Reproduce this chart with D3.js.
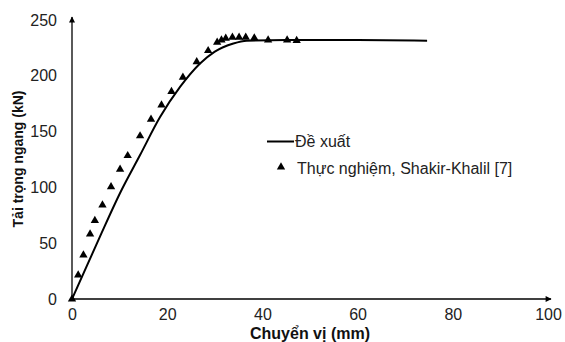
<!DOCTYPE html>
<html>
<head>
<meta charset="utf-8">
<script src="https://cdn.jsdelivr.net/npm/d3@7"></script>
<style>
  body { margin: 0; background: #fff; }
  text { font-family: "Liberation Sans", Arial, sans-serif; }
</style>
</head>
<body>
<div id="chart"></div>
<script>
// proposed model curve (mm, kN)
var modelX = [0, 3, 6.2, 10.1, 14.3, 18.5, 22.7, 26.9, 30, 33.9, 36.7, 45, 60, 74.6];
var modelY = [0, 28.5, 59, 95, 129, 163, 190, 211, 221.7, 229, 231.5, 232, 232, 231.5];

// test data, Shakir-Khalil [7]
var testX = [0, 1.3, 2.4, 3.8, 4.8, 6.4, 8.2, 10.1, 11.7, 14.3, 16.6, 18.8, 20.9, 23.3, 26.2,
             28.6, 30.5, 31.4, 32.3, 33.7, 35.1, 36.5, 38.3, 41.2, 45.2, 47.2];
var testY = [0, 21.5, 39.4, 58.2, 70.2, 84.2, 100.6, 116.2, 128.4, 146.1, 161, 173.8, 185.8, 198.7, 212.6,
             222.5, 230, 232, 233.6, 234.5, 234.5, 234.5, 233.9, 232, 232, 231.5];

var xTicks = [0, 20, 40, 60, 80, 100];
var yTicks = [0, 50, 100, 150, 200, 250];

var width = 565, height = 342;

var x = d3.scaleLinear().domain([0, 100]).range([72, 548]);
var y = d3.scaleLinear().domain([0, 250]).range([299, 20]);

var svg = d3.select('#chart').append('svg')
  .attr('width', width)
  .attr('height', height);

var defs = svg.append('defs');
defs.append('marker')
  .attr('id', 'arrow')
  .attr('viewBox', '0 0 10 10')
  .attr('refX', 9).attr('refY', 5)
  .attr('markerWidth', 7).attr('markerHeight', 6)
  .attr('markerUnits', 'userSpaceOnUse')
  .attr('orient', 'auto')
  .append('path')
  .attr('d', 'M0,0L10,5L0,10Z')
  .attr('fill', '#000');

// axes (no tick marks, arrow at the end)
var xAxis = d3.axisBottom(x).tickValues(xTicks).tickSize(0).tickPadding(10);
var yAxis = d3.axisLeft(y).tickValues(yTicks).tickSize(0).tickPadding(15);

var gx = svg.append('g').attr('transform', 'translate(0,' + y(0) + ')').call(xAxis);
var gy = svg.append('g').attr('transform', 'translate(' + x(0) + ',0)').call(yAxis);

[gx, gy].forEach(function (g) {
  g.select('.domain').remove();
  g.selectAll('text')
    .style('font-size', '16px')
    .style('font-family', '"Liberation Sans", Arial, sans-serif')
    .attr('fill', '#222');
});

svg.append('line')
  .attr('x1', x(0)).attr('y1', y(0))
  .attr('x2', x(100) + 3).attr('y2', y(0))
  .attr('stroke', '#000').attr('stroke-width', 1.3)
  .attr('marker-end', 'url(#arrow)');

svg.append('line')
  .attr('x1', x(0)).attr('y1', y(0))
  .attr('x2', x(0)).attr('y2', y(250) - 3)
  .attr('stroke', '#000').attr('stroke-width', 1.3)
  .attr('marker-end', 'url(#arrow)');

// titles
svg.append('text')
  .attr('x', 310).attr('y', 339)
  .attr('text-anchor', 'middle')
  .style('font-size', '16px').style('font-weight', 'bold')
  .attr('fill', '#111')
  .text('Chuyển vị (mm)');

svg.append('text')
  .attr('transform', 'translate(23,159) rotate(-90)')
  .attr('text-anchor', 'middle')
  .style('font-size', '14px').style('font-weight', 'bold')
  .attr('fill', '#111')
  .text('Tải trọng ngang (kN)');

// model curve
var line = d3.line()
  .x(function (d) { return x(d[0]); })
  .y(function (d) { return y(d[1]); })
  .curve(d3.curveMonotoneX);

svg.append('path')
  .datum(d3.zip(modelX, modelY))
  .attr('d', line)
  .attr('fill', 'none')
  .attr('stroke', '#000')
  .attr('stroke-width', 2);

// test points
var tri = d3.symbol().type(d3.symbolTriangle).size(30);
svg.selectAll('.pt')
  .data(d3.zip(testX, testY))
  .enter()
  .append('path')
  .attr('class', 'pt')
  .attr('d', tri)
  .attr('transform', function (d) { return 'translate(' + x(d[0]) + ',' + y(d[1]) + ')'; })
  .attr('fill', '#000');

// legend
var legend = svg.append('g');
legend.append('line')
  .attr('x1', 267).attr('x2', 294)
  .attr('y1', 141.5).attr('y2', 141.5)
  .attr('stroke', '#000').attr('stroke-width', 2);
legend.append('text')
  .attr('x', 295).attr('y', 147)
  .style('font-size', '16px').attr('fill', '#222')
  .text('Đề xuất');
legend.append('path')
  .attr('d', tri)
  .attr('transform', 'translate(281,167)')
  .attr('fill', '#000');
legend.append('text')
  .attr('x', 297).attr('y', 173.5)
  .style('font-size', '16px').attr('fill', '#222')
  .text('Thực nghiệm, Shakir-Khalil [7]');
</script>
</body>
</html>
